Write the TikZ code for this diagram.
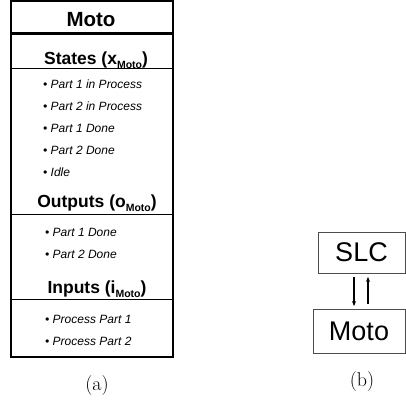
\documentclass[tikz,border=0pt]{standalone}
\usepackage{fontspec}
\newfontfamily\arial{Liberation Sans}
\usetikzlibrary{arrows.meta,calc}

\tikzset{
  thickrule/.style={line width=2.3pt},
  thinrule/.style={line width=0.8pt},
  title/.style={anchor=base, inner sep=0pt, font=\arial\bfseries\fontsize{20.5}{21}\selectfont},
  heading/.style={anchor=base, inner sep=0pt, font=\arial\bfseries\fontsize{17.5}{18}\selectfont},
  item/.style={anchor=base west, inner sep=0pt, font=\arial\itshape\fontsize{12}{12}\selectfont},
  block/.style={draw=black!70, line width=0.8pt, rectangle, inner sep=0pt,
    font=\arial\fontsize{27}{27}\selectfont},
  link/.style={line width=1.1pt, -{Stealth[length=5pt,width=4pt]}},
  caption/.style={anchor=base, inner sep=0pt, font=\fontsize{20}{20}\selectfont}
}
\newcommand{\subtag}[1]{\raisebox{-0.28em}{\fontsize{10.5}{10}\selectfont #1}}

\begin{document}
\begin{tikzpicture}[x=1pt,y=-1pt]
\useasboundingbox (0,0) rectangle (406,400);

% (a) component table
\draw[thickrule] (11,1.2) rectangle (173,357);
\draw[thickrule] (11,33.5) -- (173,33.5);
\node[title] (ttl) at (91,26) {Moto};

\node[heading] (hstates) at (96,64) {States (x\subtag{Moto})};
\draw[thinrule] (11,68) -- (173,68);
\node[item] (s1) at (43,88) {• Part 1 in Process};
\node[item] (s2) at (43,110) {• Part 2 in Process};
\node[item] (s3) at (43,132) {• Part 1 Done};
\node[item] (s4) at (43,154) {• Part 2 Done};
\node[item] (s5) at (43,176.5) {• Idle};

\node[heading] (hout) at (97,207) {Outputs (o\subtag{Moto})};
\draw[thinrule] (11,214) -- (173,214);
\node[item] (o1) at (45,236) {• Part 1 Done};
\node[item] (o2) at (45,258) {• Part 2 Done};

\node[heading] (hin) at (97,293) {Inputs (i\subtag{Moto})};
\draw[thinrule] (11,299) -- (173,299);
\node[item] (i1) at (45,323) {• Process Part 1};
\node[item] (i2) at (45,345) {• Process Part 2};

\node[caption] (capa) at (97,390) {(a)};

% (b) controller and plant
\node[block, minimum width=87pt, minimum height=41pt] (slc) at (361.5,252.5) {SLC};
\node[block, minimum width=92pt, minimum height=44pt] (moto) at (359,331) {Moto};
\draw[link] ($(slc.south)+(-7.5,4)$) -- ($(slc.south |- moto.north)+(-7.5,-2.5)$);
\draw[link] ($(slc.south |- moto.north)+(6.5,-5)$) -- ($(slc.south)+(6.5,3.5)$);

\node[caption] (capb) at (362,386.5) {(b)};
\end{tikzpicture}
\end{document}
